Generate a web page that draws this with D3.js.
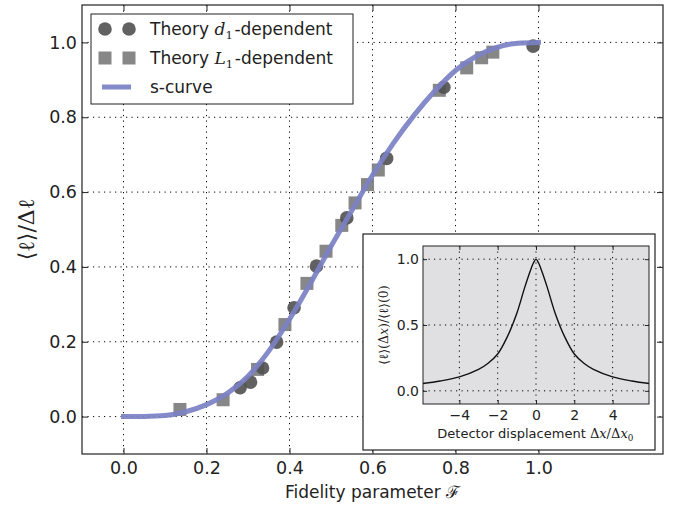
<html>
<head>
<meta charset="utf-8">
<script src="https://d3js.org/d3.v7.min.js"></script>
<style>
body { margin: 0; background: #fff; }
text { font-family: "DejaVu Sans"; fill: #222; }
</style>
</head>
<body>
<svg id="page"></svg>
<script>
// s-curve
var curveF = [0, 0.05, 0.1, 0.15, 0.2, 0.25, 0.3, 0.35, 0.4, 0.45, 0.5, 0.55, 0.6, 0.65, 0.7, 0.75, 0.8, 0.85, 0.9, 0.95, 1.0];
var curveY = [0, 0.0005, 0.003, 0.013, 0.032, 0.062, 0.108, 0.175, 0.26, 0.355, 0.455, 0.55, 0.645, 0.73, 0.805, 0.87, 0.925, 0.963, 0.987, 0.998, 1.0];

// theory points
var d1F = [0.281, 0.306, 0.335, 0.369, 0.411, 0.465, 0.538, 0.634, 0.772, 0.987];
var d1Y = [0.077, 0.092, 0.130, 0.199, 0.291, 0.402, 0.531, 0.690, 0.880, 0.990];
var l1F = [0.136, 0.240, 0.323, 0.389, 0.442, 0.488, 0.526, 0.558, 0.588, 0.614, 0.761, 0.827, 0.863, 0.890];
var l1Y = [0.019, 0.045, 0.126, 0.246, 0.356, 0.442, 0.511, 0.571, 0.620, 0.659, 0.872, 0.932, 0.959, 0.974];

var mainXTicks = [0, 0.2, 0.4, 0.6, 0.8, 1.0];
var mainYTicks = [0, 0.2, 0.4, 0.6, 0.8, 1.0];

// inset curve
var insetX = [-5.9, -5, -4, -3, -2.5, -2, -1.5, -1, -0.6, -0.3, -0.12, 0, 0.12, 0.3, 0.6, 1, 1.5, 2, 2.5, 3, 4, 5, 5.9];
var insetY = [0.056, 0.075, 0.106, 0.163, 0.21, 0.28, 0.41, 0.59, 0.78, 0.91, 0.975, 1.0, 0.975, 0.91, 0.78, 0.59, 0.41, 0.28, 0.21, 0.163, 0.106, 0.075, 0.056];
var insetXTicks = [-4, -2, 0, 2, 4];
var insetYTicks = [0, 0.5, 1.0];

var lineColor = "#7b80c4";

var svg = d3.select("#page").attr("width", 674).attr("height", 506);

// main axes
var L = 82, T = 5, R = 663, B = 454;
var x = d3.scaleLinear().domain([-0.1, 1.3]).range([L, R]);
var y = d3.scaleLinear().domain([-0.1, 1.1]).range([B, T]);

function dotted(g, xs, ys, xsc, ysc, x0, x1, y0, y1) {
	xs.forEach(function (v) {
		g.append("line").attr("x1", xsc(v)).attr("x2", xsc(v)).attr("y1", y0).attr("y2", y1)
			.attr("stroke", "#000").attr("stroke-width", 1).attr("stroke-dasharray", "1.2,4.3");
	});
	ys.forEach(function (v) {
		g.append("line").attr("x1", x0).attr("x2", x1).attr("y1", ysc(v)).attr("y2", ysc(v))
			.attr("stroke", "#000").attr("stroke-width", 1).attr("stroke-dasharray", "1.2,4.3");
	});
}

dotted(svg.append("g"), mainXTicks, mainYTicks, x, y, L, R, T, B);

// markers
svg.append("g").selectAll("rect").data(l1F).enter().append("rect")
	.attr("x", function (d) { return x(d) - 6.5; })
	.attr("y", function (d, i) { return y(l1Y[i]) - 6.5; })
	.attr("width", 13).attr("height", 13)
	.attr("fill", "#7a7a7a").attr("fill-opacity", 0.9);
svg.append("g").selectAll("circle").data(d1F).enter().append("circle")
	.attr("cx", function (d) { return x(d); })
	.attr("cy", function (d, i) { return y(d1Y[i]); })
	.attr("r", 6.8)
	.attr("fill", "#505050").attr("fill-opacity", 0.9);

// s-curve
var sline = d3.line()
	.x(function (d) { return x(d); })
	.y(function (d, i) { return y(curveY[i]); })
	.curve(d3.curveMonotoneX);
svg.append("path").attr("d", sline(curveF))
	.attr("fill", "none").attr("stroke", lineColor).attr("stroke-width", 5)
	.attr("stroke-opacity", 0.92).attr("stroke-linecap", "square");

// axes ticks
function fixAxis(g) { g.select(".domain").remove(); g.selectAll("line").attr("stroke", "#222"); }
svg.append("g").attr("transform", "translate(0," + B + ")")
	.call(d3.axisBottom(x).tickValues(mainXTicks).tickFormat(d3.format(".1f")).tickSizeInner(-6).tickSizeOuter(0).tickPadding(8))
	.call(fixAxis)
	.selectAll("text").style("font-size", "17.5px").attr("fill", "#222");
svg.append("g").attr("transform", "translate(0," + T + ")")
	.call(d3.axisTop(x).tickValues(mainXTicks).tickFormat("").tickSizeInner(-6).tickSizeOuter(0))
	.call(fixAxis);
svg.append("g").attr("transform", "translate(" + L + ",0)")
	.call(d3.axisLeft(y).tickValues(mainYTicks).tickFormat(d3.format(".1f")).tickSizeInner(-6).tickSizeOuter(0).tickPadding(5))
	.call(fixAxis)
	.selectAll("text").style("font-size", "17.5px").attr("fill", "#222");
svg.append("g").attr("transform", "translate(" + R + ",0)")
	.call(d3.axisRight(y).tickValues(mainYTicks).tickFormat("").tickSizeInner(-6).tickSizeOuter(0))
	.call(fixAxis);

svg.append("rect").attr("x", L).attr("y", T).attr("width", R - L).attr("height", B - T)
	.attr("fill", "none").attr("stroke", "#222").attr("stroke-width", 1.2);

// mixed text helper: parts [text, kind]
function mtext(g, parts, size) {
	var t = g;
	parts.forEach(function (p) {
		var s = t.append("tspan").text(p[0]);
		if (p[1] == "it") s.style("font-family", "DejaVu Serif").style("font-style", "italic");
		if (p[1] == "rm") s.style("font-family", "DejaVu Serif");
		if (p[1] == "sub") {
			s.style("font-family", "DejaVu Serif").style("font-size", (size * 0.68) + "px").attr("dy", size * 0.22);
			t.append("tspan").text("\u200a").attr("dy", -size * 0.22);
		}
	});
	return t;
}

// axis labels
var xl = svg.append("text").attr("x", (L + R) / 2).attr("y", 498).attr("text-anchor", "middle")
	.style("font-size", "17px");
mtext(xl, [["Fidelity parameter ", ""], ["\u2131", "rm"]], 17);

var yl = svg.append("text").attr("transform", "translate(34," + ((T + B) / 2) + ") rotate(-90)")
	.attr("text-anchor", "middle").style("font-size", "22px").attr("fill", "#444")
	.style("font-family", "DejaVu Serif");
yl.text("\u27e8\u2113\u27e9/\u0394\u2113");

// legend
var lg = svg.append("g");
lg.append("rect").attr("x", 91).attr("y", 14).attr("width", 262).attr("height", 90)
	.attr("fill", "#fff").attr("stroke", "#222").attr("stroke-width", 1);
[105, 129].forEach(function (cx) {
	lg.append("circle").attr("cx", cx).attr("cy", 29).attr("r", 6.8).attr("fill", "#505050").attr("fill-opacity", 0.9);
	lg.append("rect").attr("x", cx - 6.5).attr("y", 58 - 6.5).attr("width", 13).attr("height", 13).attr("fill", "#7a7a7a").attr("fill-opacity", 0.9);
});
lg.append("line").attr("x1", 102).attr("x2", 131).attr("y1", 87).attr("y2", 87)
	.attr("stroke", lineColor).attr("stroke-width", 5).attr("stroke-opacity", 0.92);
var t1 = lg.append("text").attr("x", 150).attr("y", 35).style("font-size", "17px");
mtext(t1, [["Theory ", ""], ["d", "it"], ["1", "sub"], ["-dependent", ""]], 17);
var t2 = lg.append("text").attr("x", 150).attr("y", 64).style("font-size", "17px");
mtext(t2, [["Theory ", ""], ["L", "it"], ["1", "sub"], ["-dependent", ""]], 17);
lg.append("text").attr("x", 150).attr("y", 93).style("font-size", "17px").text("s-curve");

// inset
var ig = svg.append("g");
ig.append("rect").attr("x", 363).attr("y", 234).attr("width", 292).attr("height", 216)
	.attr("fill", "#fff").attr("stroke", "#222").attr("stroke-width", 1.2);
var iL = 423, iT = 246, iR = 649, iB = 404;
var ix = d3.scaleLinear().domain([-5.9, 5.9]).range([iL, iR]);
var iy = d3.scaleLinear().domain([-0.1, 1.1]).range([iB, iT]);
ig.append("rect").attr("x", iL).attr("y", iT).attr("width", iR - iL).attr("height", iB - iT).attr("fill", "#e0e0e3");
dotted(ig.append("g"), insetXTicks, insetYTicks, ix, iy, iL, iR, iT, iB);

var iline = d3.line()
	.x(function (d) { return ix(d); })
	.y(function (d, i) { return iy(insetY[i]); })
	.curve(d3.curveCatmullRom.alpha(0.5));
ig.append("path").attr("d", iline(insetX)).attr("fill", "none").attr("stroke", "#111").attr("stroke-width", 1.4);

ig.append("g").attr("transform", "translate(0," + iB + ")")
	.call(d3.axisBottom(ix).tickValues(insetXTicks).tickFormat(d3.format("d")).tickSizeInner(-4).tickSizeOuter(0).tickPadding(6))
	.call(fixAxis)
	.selectAll("text").style("font-size", "14px").attr("fill", "#222");
ig.append("g").attr("transform", "translate(0," + iT + ")")
	.call(d3.axisTop(ix).tickValues(insetXTicks).tickFormat("").tickSizeInner(-4).tickSizeOuter(0))
	.call(fixAxis);
ig.append("g").attr("transform", "translate(" + iL + ",0)")
	.call(d3.axisLeft(iy).tickValues(insetYTicks).tickFormat(d3.format(".1f")).tickSizeInner(-4).tickSizeOuter(0).tickPadding(4))
	.call(fixAxis)
	.selectAll("text").style("font-size", "14px").attr("fill", "#222");
ig.append("g").attr("transform", "translate(" + iR + ",0)")
	.call(d3.axisRight(iy).tickValues(insetYTicks).tickFormat("").tickSizeInner(-4).tickSizeOuter(0))
	.call(fixAxis);
ig.append("rect").attr("x", iL).attr("y", iT).attr("width", iR - iL).attr("height", iB - iT)
	.attr("fill", "none").attr("stroke", "#222").attr("stroke-width", 1);

var ixl = ig.append("text").attr("x", (iL + iR) / 2).attr("y", 438).attr("text-anchor", "middle")
	.style("font-size", "13px").attr("fill", "#333");
mtext(ixl, [["Detector displacement ", ""], ["\u0394", "rm"], ["x", "it"], ["/\u0394", "rm"], ["x", "it"], ["0", "sub"]], 13);

var iyl = ig.append("text").attr("transform", "translate(388," + ((iT + iB) / 2) + ") rotate(-90)")
	.attr("text-anchor", "middle").style("font-size", "12.5px").attr("fill", "#888")
	.style("font-family", "DejaVu Serif");
mtext(iyl, [["\u27e8\u2113\u27e9(\u0394", "rm"], ["x", "it"], [")/\u27e8\u2113\u27e9(0)", "rm"]], 12.5);
</script>
</body>
</html>
